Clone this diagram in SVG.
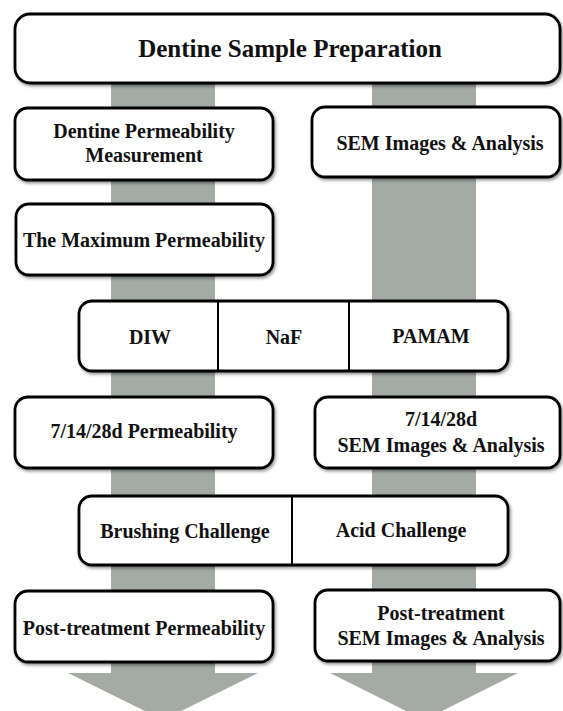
<svg xmlns="http://www.w3.org/2000/svg" width="563" height="711" viewBox="0 0 563 711">
  <defs>
    <filter id="sh" x="-10%" y="-20%" width="120%" height="150%">
      <feDropShadow dx="1.5" dy="2" stdDeviation="1.5" flood-color="#000" flood-opacity="0.4"/>
    </filter>
  </defs>
  <style>
    .box { fill: #ffffff; stroke: #000000; stroke-width: 2.8; filter: url(#sh); }
    .div { stroke: #000000; stroke-width: 2; }
    .flow { fill: #a3aba4; stroke: none; }
    text { font-family: "Liberation Serif", "Times New Roman", serif; font-weight: bold; fill: #111111; text-anchor: middle; }
    .t { font-size: 20px; }
    .tt { font-size: 25px; }
  </style>
  <rect width="563" height="711" fill="#ffffff"/>

  <g id="connectors">
    <rect class="flow" x="111" y="80" width="104" height="594"/>
    <polygon class="flow" points="68,673 258,673 163,720"/>
    <rect class="flow" x="372" y="80" width="104" height="594"/>
    <polygon class="flow" points="330,673 518,673 424,720"/>
  </g>

  <g id="node-prep">
    <rect class="box" x="15" y="14" width="545" height="69" rx="15"/>
    <text class="tt" x="290" y="57">Dentine Sample Preparation</text>
  </g>

  <g id="node-perm-measure">
    <rect class="box" x="15" y="108" width="258" height="72" rx="13"/>
    <text class="t" x="144" y="138">Dentine Permeability</text>
    <text class="t" x="144" y="162">Measurement</text>
  </g>

  <g id="node-sem1">
    <rect class="box" x="312" y="107" width="248" height="70" rx="13"/>
    <text class="t" x="440" y="150">SEM Images &amp; Analysis</text>
  </g>

  <g id="node-max-perm">
    <rect class="box" x="16" y="204" width="257" height="71" rx="13"/>
    <text class="t" x="144" y="247">The Maximum Permeability</text>
  </g>

  <g id="node-treatments">
    <rect class="box" x="79" y="301" width="429" height="70" rx="13"/>
    <line class="div" x1="218" y1="302" x2="218" y2="370"/>
    <line class="div" x1="349" y1="302" x2="349" y2="370"/>
    <text class="t" x="150" y="344">DIW</text>
    <text class="t" x="284" y="344">NaF</text>
    <text class="t" x="431" y="343">PAMAM</text>
  </g>

  <g id="node-perm-days">
    <rect class="box" x="15" y="397" width="258" height="71" rx="13"/>
    <text class="t" x="144" y="438">7/14/28d Permeability</text>
  </g>

  <g id="node-sem-days">
    <rect class="box" x="315" y="397" width="245" height="71" rx="13"/>
    <text class="t" x="441" y="426">7/14/28d</text>
    <text class="t" x="441" y="452">SEM Images &amp; Analysis</text>
  </g>

  <g id="node-challenges">
    <rect class="box" x="79" y="496" width="429" height="69" rx="13"/>
    <line class="div" x1="292" y1="497" x2="292" y2="564"/>
    <text class="t" x="185" y="538">Brushing Challenge</text>
    <text class="t" x="401" y="537">Acid Challenge</text>
  </g>

  <g id="node-post-perm">
    <rect class="box" x="15" y="591" width="258" height="71" rx="13"/>
    <text class="t" x="144" y="635">Post-treatment Permeability</text>
  </g>

  <g id="node-post-sem">
    <rect class="box" x="315" y="590" width="245" height="71" rx="13"/>
    <text class="t" x="441" y="620">Post-treatment</text>
    <text class="t" x="441" y="645">SEM Images &amp; Analysis</text>
  </g>
</svg>
